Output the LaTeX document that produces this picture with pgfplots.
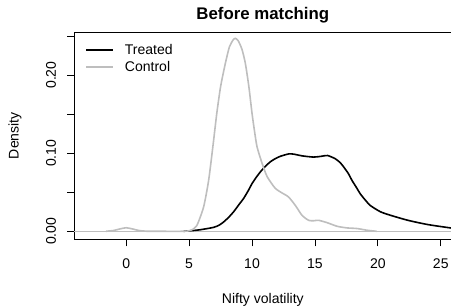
\documentclass[border=0pt]{standalone}
\usepackage{fontspec}
\setmainfont{Liberation Sans}
\usepackage{pgfplots}
\pgfplotsset{compat=1.18}
\definecolor{rgray}{HTML}{BEBEBE}
\begin{document}
\begin{tikzpicture}
\begin{axis}[
  at={(0,0)}, anchor=south west,
  width=377bp, height=207bp, scale only axis,
  xmin=-4.14, xmax=25.86, ymin=-0.0103, ymax=0.2551,
  axis line style={line width=0.8bp, black},
  tick align=outside, xtick pos=bottom, ytick pos=left,
  major tick length=7bp,
  tick style={line width=0.8bp, black},
  xtick={0,5,10,15,20,25}, xticklabels={0,5,10,15,20,25},
  ytick={0,0.05,0.10,0.15,0.20,0.25}, yticklabels={0.00,,0.10,,0.20,},
  tick label style={font=\fontsize{14bp}{16bp}\selectfont},
  x tick label style={anchor=center, yshift=-17bp},
  y tick label style={anchor=center, xshift=-16bp, rotate=90},
  title={Before matching},
  title style={font=\fontsize{16.8bp}{19bp}\selectfont\bfseries, at={(axis description cs:0.5,1)}, anchor=center, yshift=11bp},
  xlabel={Nifty volatility},
  xlabel style={font=\fontsize{14bp}{16bp}\selectfont, at={(axis description cs:0.5,0)}, anchor=center, yshift=-60.5bp},
  ylabel={Density},
  ylabel style={font=\fontsize{14bp}{16bp}\selectfont, at={(axis description cs:0,0.5)}, anchor=center, yshift=59bp},
  legend style={draw=none, fill=none, at={(0,1)}, anchor=north west, xshift=8bp, yshift=-8bp,
    font=\fontsize{14bp}{16bp}\selectfont, row sep=1bp},
  legend cell align=left,
  legend image code/.code={\draw[#1] (0bp,0bp) -- (27bp,0bp); \path (36bp,0bp);},
]
\addplot[forget plot, rgray, line width=0.5bp] coordinates {(-4.14,0) (25.86,0)};
\addplot[black, line width=1.6bp, smooth, tension=0.4] coordinates {
(4.56,0) (5.2,0.0008) (5.9,0.002) (6.95,0.005) (7.4,0.008) (7.75,0.012) (8.15,0.018) (8.54,0.025)
(9.0,0.035) (9.33,0.042) (9.7,0.052) (10.0,0.061) (10.33,0.069) (10.66,0.076) (11.05,0.083)
(11.46,0.089) (11.85,0.093) (12.25,0.096) (12.9,0.099) (13.3,0.0988) (14.0,0.0965) (14.9,0.095)
(15.5,0.096) (16.0,0.097) (16.6,0.093) (17.0,0.088) (17.3,0.082) (17.65,0.074) (17.95,0.065)
(18.3,0.056) (18.6,0.048) (19.0,0.040) (19.4,0.033) (20.2,0.025) (21.0,0.0205) (22.4,0.014)
(24,0.0085) (25.9,0.004)};
\addlegendentry{Treated}
\addplot[rgray, line width=1.6bp, smooth, tension=0.4] coordinates {
(-1.6,0) (-1.0,0.001) (-0.5,0.003) (0,0.0045) (0.5,0.003) (1.0,0.001) (1.6,0.0001) (2.5,0) (4.5,0)
(5.1,0.001) (5.6,0.007) (6.15,0.031) (6.55,0.065) (6.9,0.11) (7.2,0.151) (7.5,0.185) (7.88,0.215)
(8.2,0.236) (8.5,0.245) (8.67,0.247) (8.9,0.244) (9.2,0.233) (9.47,0.215) (9.75,0.185) (10.0,0.151)
(10.2,0.128) (10.4,0.108) (10.8,0.087) (11.2,0.07) (11.85,0.055) (12.5,0.048) (12.9,0.044)
(13.45,0.033) (13.97,0.0205) (14.5,0.014) (14.9,0.0135) (15.3,0.014) (15.97,0.011) (16.76,0.0064)
(17.55,0.0043) (18.35,0.0035) (19.15,0.0013) (19.9,0)};
\addlegendentry{Control}
\end{axis}
\pgfresetboundingbox
\useasboundingbox (-74bp,-68bp) rectangle (376.4bp,239bp);
\end{tikzpicture}
\end{document}
